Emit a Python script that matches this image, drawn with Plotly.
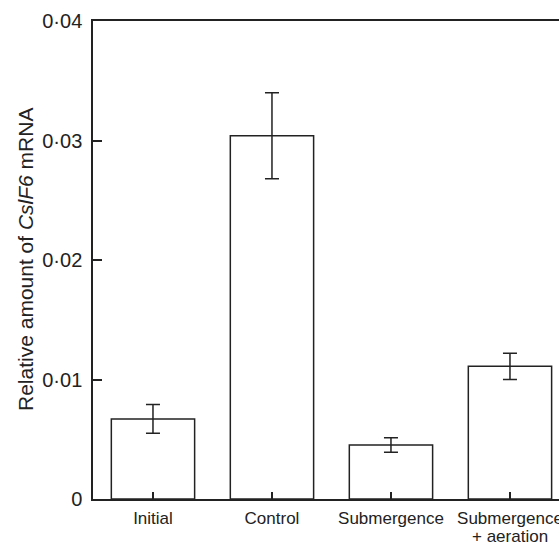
import plotly.graph_objects as go

categories = ["Initial", "Control", "Submergence", "Submergence|+ aeration"]
values = [0.0067, 0.0304, 0.00452, 0.0111]
errors = [0.0012, 0.0036, 0.0006, 0.0011]
ytick_vals = [0, 0.01, 0.02, 0.03, 0.04]
ytick_text = ["0", "0·01", "0·02", "0·03", "0·04"]
y_title = "Relative amount of <i>CslF6</i> mRNA"

x_pos = list(range(len(categories)))
first_lines = [c.split("|")[0] for c in categories]

fig = go.Figure()
fig.add_trace(go.Bar(
    x=x_pos, y=values, width=0.7,
    marker=dict(color="white", line=dict(color="#222", width=1.5)),
    error_y=dict(type="data", array=errors, visible=True, color="#222",
                 thickness=1.5, width=7),
))

font = "Liberation Sans, Arial, sans-serif"
fig.add_annotation(
    text=y_title, textangle=-90, showarrow=False,
    xref="paper", yref="paper", x=0, y=0.5,
    xanchor="center", yanchor="middle", xshift=-68,
    font=dict(size=21, family=font, color="#222"),
)
for xi, c in zip(x_pos, categories):
    parts = c.split("|")
    if len(parts) > 1:
        fig.add_annotation(
            text=parts[1], showarrow=False,
            xref="x", yref="paper", x=xi, y=0,
            xanchor="center", yanchor="middle", yshift=-37,
            font=dict(size=17, family=font, color="#222"),
        )
fig.update_layout(
    width=559, height=544,
    margin=dict(l=93, r=0, t=21, b=45, autoexpand=False),
    plot_bgcolor="white", paper_bgcolor="white",
    showlegend=False,
    font=dict(family=font, color="#222"),
    xaxis=dict(
        range=[-0.504, 3.412], tickvals=x_pos, ticktext=first_lines,
        ticks="inside", ticklen=7, tickwidth=1.5, tickcolor="#222",
        showline=True, linecolor="#222", linewidth=1.5, mirror=True,
        showgrid=False, zeroline=False, automargin=False,
        tickfont=dict(size=17), ticklabeloverflow="allow",
        ticklabelstandoff=3,
    ),
    yaxis=dict(
        range=[0, 0.04], tickvals=ytick_vals, ticktext=ytick_text,
        ticks="inside", ticklen=9, tickwidth=1.5, tickcolor="#222",
        showline=True, linecolor="#222", linewidth=1.5,
        showgrid=False, zeroline=False, automargin=False,
        tickfont=dict(size=20), ticklabelstandoff=5,
    ),
)

fig.write_html(
    "out.html",
    config={"displayModeBar": False},
    post_script="document.body.style.margin='0';document.body.style.overflow='hidden';",
)
